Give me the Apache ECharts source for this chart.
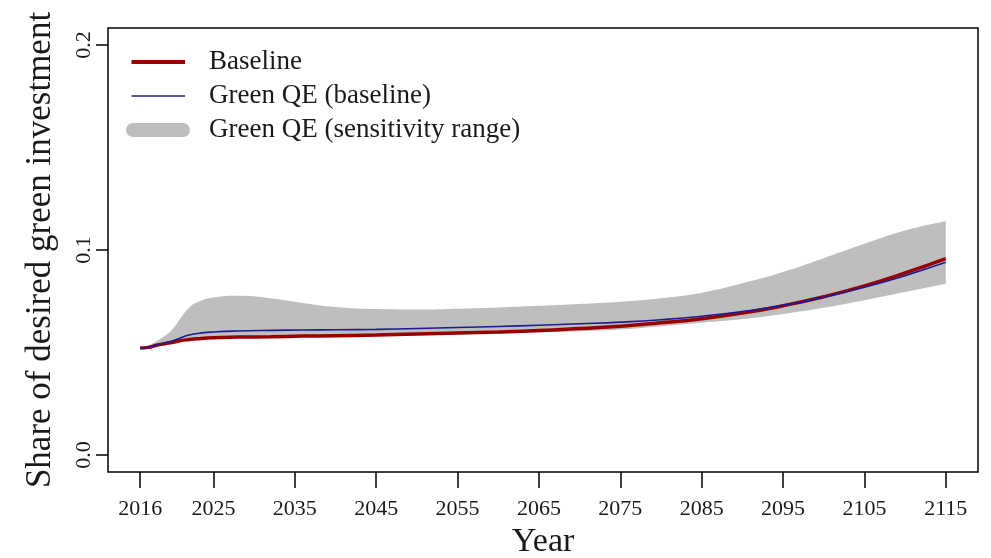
<!DOCTYPE html>
<html>
<head>
<meta charset="utf-8">
<script src="https://cdn.jsdelivr.net/npm/echarts@6/dist/echarts.min.js"></script>
<style>
html, body { margin: 0; padding: 0; background: #fff; }
#chart { width: 991px; height: 558px; }
</style>
</head>
<body>
<div id="chart"></div>
<script>
// years sampled along the curves
const years = [2016, 2017, 2018, 2019, 2020, 2021, 2022, 2023, 2025, 2028, 2032, 2036, 2040, 2045,
    2050, 2055, 2060, 2065, 2070, 2075, 2080, 2085, 2090, 2095, 2100, 2105, 2110, 2115]

const baseline = [0.0522, 0.0525, 0.0535, 0.0543, 0.0550, 0.0558, 0.0563, 0.0567, 0.0572, 0.0575, 0.0577,
    0.0580, 0.0582, 0.0585, 0.0590, 0.0595, 0.0600, 0.0607, 0.0617, 0.0628, 0.0645, 0.0665, 0.0692,
    0.0728, 0.0772, 0.0825, 0.0888, 0.0958]

const greenQE = [0.0522, 0.0525, 0.0537, 0.0547, 0.0557, 0.0572, 0.0585, 0.0593, 0.0600, 0.0605, 0.0608,
    0.0610, 0.0611, 0.0613, 0.0617, 0.0622, 0.0627, 0.0633, 0.0640, 0.0648, 0.0660, 0.0677, 0.0700,
    0.0730, 0.0770, 0.0818, 0.0875, 0.0940]

const rangeHigh = [0.0522, 0.0535, 0.0555, 0.0580, 0.0615, 0.0670, 0.0718, 0.0745, 0.0768, 0.0777, 0.0765,
    0.0742, 0.0722, 0.0712, 0.0710, 0.0714, 0.0720, 0.0728, 0.0737, 0.0748, 0.0765, 0.0792, 0.0838,
    0.0893, 0.0960, 0.1030, 0.1095, 0.1140]

const rangeLow = [0.0518, 0.0522, 0.0532, 0.0540, 0.0548, 0.0555, 0.0560, 0.0563, 0.0568, 0.0571, 0.0573,
    0.0576, 0.0578, 0.0581, 0.0585, 0.0589, 0.0593, 0.0598, 0.0604, 0.0612, 0.0628, 0.0645, 0.0663,
    0.0688, 0.0718, 0.0755, 0.0795, 0.0835]

const xTicks = [2016, 2025, 2035, 2045, 2055, 2065, 2075, 2085, 2095, 2105, 2115]
const yTicks = [0, 0.1, 0.2]

const serif = 'Liberation Serif'
const ink = '#1a1a1a'

function pairs(vals) {
    return years.map((y, i) => [y, vals[i]])
}

// value first, year second: with two value axes ECharts stacks the first
// numeric column, so this makes the band stack on y
function bandPairs(vals) {
    return years.map((y, i) => [vals[i], y])
}

// legend icons drawn inside a 78x14 frame so the text lines up
const frame = 'M0,0L0,0M78,14L78,14'
const icons = {
    red: 'path://' + frame + 'M5.5,5H59V9H5.5Z',
    blue: 'path://' + frame + 'M5.5,6.2H59V7.8H5.5Z',
    band: 'path://' + frame + 'M7,0H57A7,7,0,0,1,57,14H7A7,7,0,0,1,7,0Z'
}

const option = {
    animation: false,
    grid: {
        left: 108, right: 13, top: 28, bottom: 86,
        show: true,
        borderColor: '#000',
        borderWidth: 1.5,
        outerBoundsMode: 'none'
    },
    legend: {
        orient: 'vertical',
        left: 121,
        top: 43,
        itemWidth: 78,
        itemHeight: 14,
        itemGap: 6,
        itemStyle: { borderWidth: 0 },
        textStyle: { fontFamily: serif, fontSize: 27, lineHeight: 28, color: ink },
        data: [
            { name: 'Baseline', icon: icons.red },
            { name: 'Green QE (baseline)', icon: icons.blue },
            { name: 'Green QE (sensitivity range)', icon: icons.band }
        ]
    },
    xAxis: {
        type: 'value',
        min: 2012.04,
        max: 2118.96,
        name: 'Year',
        nameLocation: 'middle',
        nameGap: 52,
        nameTextStyle: { fontFamily: serif, fontSize: 34, color: ink },
        axisLine: { show: false, onZero: false },
        splitLine: { show: false },
        axisTick: {
            show: true,
            customValues: xTicks,
            length: 16,
            lineStyle: { color: '#000', width: 1.5 }
        },
        axisLabel: {
            customValues: xTicks,
            margin: 26,
            fontFamily: serif,
            fontSize: 22,
            color: ink,
            formatter: v => String(v)
        }
    },
    yAxis: {
        type: 'value',
        min: -0.0083,
        max: 0.2083,
        name: 'Share of desired green investment',
        nameLocation: 'middle',
        nameGap: 50,
        nameTextStyle: { fontFamily: serif, fontSize: 35, color: ink },
        axisLine: { show: false, onZero: false },
        splitLine: { show: false },
        axisTick: {
            show: true,
            customValues: yTicks,
            length: 12,
            lineStyle: { color: '#000', width: 1.5 }
        },
        axisLabel: {
            customValues: yTicks,
            rotate: 90,
            margin: 13,
            fontFamily: serif,
            fontSize: 22,
            color: ink,
            formatter: v => v.toFixed(1)
        }
    },
    series: [
        {
            name: 'range-low',
            type: 'line',
            stack: 'band',
            smooth: true,
            symbol: 'none',
            silent: true,
            encode: { x: 1, y: 0 },
            lineStyle: { opacity: 0 },
            data: bandPairs(rangeLow)
        },
        {
            name: 'Green QE (sensitivity range)',
            type: 'line',
            stack: 'band',
            smooth: true,
            symbol: 'none',
            encode: { x: 1, y: 0 },
            color: '#BEBEBE',
            lineStyle: { opacity: 0 },
            areaStyle: { color: '#BEBEBE', opacity: 1 },
            data: bandPairs(rangeHigh.map((v, i) => v - rangeLow[i]))
        },
        {
            name: 'Baseline',
            type: 'line',
            smooth: true,
            symbol: 'none',
            color: '#990000',
            lineStyle: { width: 3.5, color: '#990000' },
            data: pairs(baseline)
        },
        {
            name: 'Green QE (baseline)',
            type: 'line',
            smooth: true,
            symbol: 'none',
            color: '#1c1c94',
            lineStyle: { width: 1.6, color: '#1c1c94' },
            data: pairs(greenQE)
        }
    ]
}

const chart = echarts.init(document.getElementById('chart'))
chart.setOption(option)
</script>
</body>
</html>
